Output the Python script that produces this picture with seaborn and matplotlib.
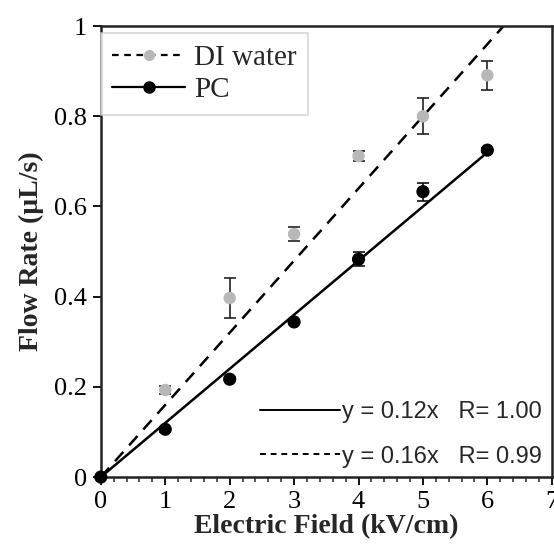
import numpy as np
import pandas as pd
import matplotlib
matplotlib.use("Agg")
import matplotlib.pyplot as plt
import seaborn as sns
from matplotlib.lines import Line2D
from matplotlib.ticker import MultipleLocator

# Data
field = [1, 2, 3, 4, 5, 6]
di_water = [0.193, 0.397, 0.539, 0.712, 0.800, 0.891]
di_err = [0.008, 0.044, 0.015, 0.010, 0.040, 0.032]
pc = [0.106, 0.217, 0.344, 0.483, 0.633, 0.725]
pc_err = [0.005, 0.005, 0.005, 0.015, 0.020, 0.005]
slope_pc = 0.12
slope_di = 0.16
x_ticks = [0, 1, 2, 3, 4, 5, 6, 7]
y_ticks = [0, 0.2, 0.4, 0.6, 0.8, 1.0]
y_ticklabels = ["0", "0.2", "0.4", "0.6", "0.8", "1"]

sns.set_theme(style="white")
plt.rcParams['font.family'] = ['Liberation Serif', 'DejaVu Serif']

fig = plt.figure(figsize=(5.54, 5.56), dpi=100)
ax = fig.add_axes([0.182, 0.142, 0.814, 0.811])

DASH = (0, (5, 3.5))

# fit lines
xs_pc = np.array([0, 6.0])
xs_di = np.array([0, 6.25])
fit = pd.DataFrame({"x": np.concatenate([xs_pc, xs_di]),
                    "y": np.concatenate([slope_pc * xs_pc, slope_di * xs_di]),
                    "s": ["pc"] * 2 + ["di"] * 2})
sns.lineplot(data=fit[fit.s == "pc"], x="x", y="y", color="black", lw=1.8, ax=ax)
sns.lineplot(data=fit[fit.s == "di"], x="x", y="y", color="black", lw=1.8,
             linestyle=DASH, ax=ax)

# error bars
ax.errorbar(field, di_water, yerr=di_err, fmt="none",
            ecolor="#222222", elinewidth=1.2, capsize=4, capthick=1.2, zorder=3)
ax.errorbar(field, pc, yerr=pc_err, fmt="none",
            ecolor="#111111", elinewidth=1.2, capsize=4, capthick=1.2, zorder=3)

pts = pd.DataFrame({"x": [0] + field + [0] + field,
                    "y": [0] + di_water + [0] + pc,
                    "s": ["DI water"] * 7 + ["PC"] * 7})
sns.scatterplot(data=pts[pts.s == "DI water"], x="x", y="y", color="#b8b8b8",
                s=80, edgecolor="none", ax=ax, zorder=4, legend=False, clip_on=False)
sns.scatterplot(data=pts[pts.s == "PC"], x="x", y="y", color="black",
                s=90, edgecolor="none", ax=ax, zorder=5, legend=False, clip_on=False)

ax.set_xlim(0, 7)
ax.set_ylim(0, 1)
ax.set_xticks(x_ticks)
ax.set_xticklabels([str(v) for v in x_ticks])
ax.xaxis.set_minor_locator(MultipleLocator(0.2))
ax.set_yticks(y_ticks)
ax.set_yticklabels(y_ticklabels)
ax.tick_params(axis="both", which="major", direction="out", length=6, width=1.3,
               labelsize=19, colors="black", bottom=True, left=True, pad=4)
ax.tick_params(axis="x", which="minor", direction="out", length=3.5, width=1.1, bottom=True)
for sp in ax.spines.values():
    sp.set_color("#222222")
    sp.set_linewidth(1.8)

ax.set_xlabel("Electric Field (kV/cm)", fontsize=20, fontweight="bold", labelpad=1)
ax.set_ylabel("Flow Rate (\u00b5L/s)", fontsize=20, fontweight="bold", labelpad=7)

h1 = [Line2D([0], [0], color="black", lw=1.6, linestyle=(0, (3, 2.5)),
             marker="o", markerfacecolor="#b8b8b8", markeredgecolor="none", markersize=8),
      Line2D([0], [0], color="black", lw=1.6, marker="o", markerfacecolor="black",
             markeredgecolor="black", markersize=8)]
leg1 = ax.legend(h1, ["DI water", "PC"], loc="upper left", bbox_to_anchor=(0.0, 0.985),
                 fontsize=21, frameon=True, fancybox=False, edgecolor="#cccccc",
                 handlelength=2.5, handletextpad=0.3, borderpad=0.4, labelspacing=0.2,
                 borderaxespad=0.0)
leg1.get_frame().set_linewidth(1.2)
ax.add_artist(leg1)

h2 = [Line2D([0], [0], color="black", lw=1.4),
      Line2D([0], [0], color="black", lw=1.4, linestyle=(0, (3, 2.5)))]
leg2 = ax.legend(h2, ["y = 0.12x   R= 1.00", "y = 0.16x   R= 0.99"], loc="lower right",
                 bbox_to_anchor=(1.0, 0.0), frameon=False, handlelength=3.4,
                 handletextpad=0.1, labelspacing=0.95, borderaxespad=0.0,
                 prop={"family": "Liberation Sans", "size": 17})

fig.savefig("out.png", dpi=100)
